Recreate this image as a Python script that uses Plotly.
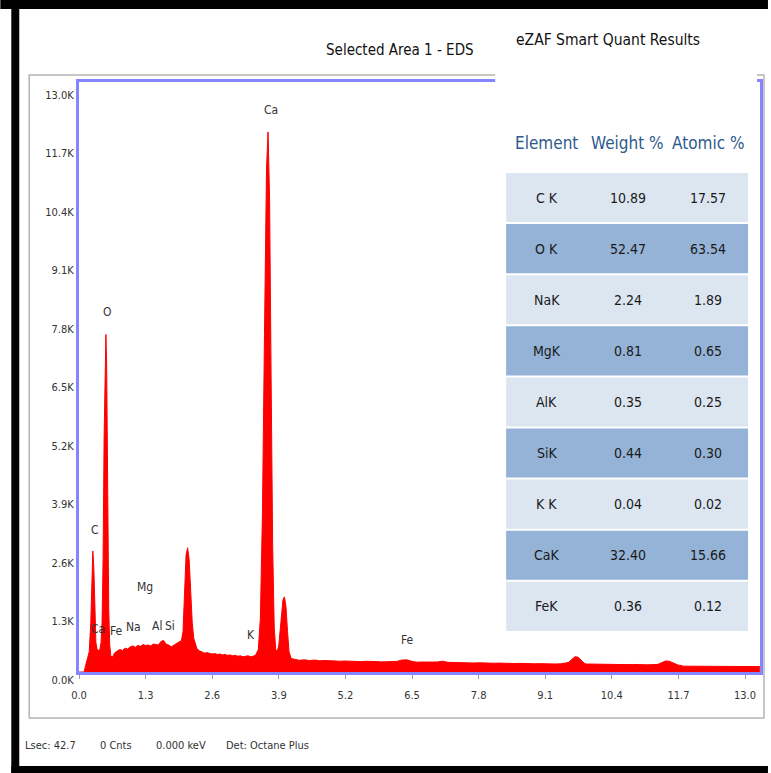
import plotly.graph_objects as go

# ---------------- data ----------------
energy_kev = [
    0.00, 0.10, 0.13, 0.17, 0.20, 0.23, 0.25, 0.27, 0.29, 0.31, 0.33, 0.35, 0.37, 0.39,
    0.41, 0.43, 0.45, 0.47, 0.49, 0.51, 0.525, 0.54, 0.56, 0.58, 0.60, 0.62,
    0.65, 0.70, 0.75, 0.80, 0.85, 0.90, 0.95, 1.00, 1.05, 1.10, 1.15, 1.20, 1.25, 1.30,
    1.35, 1.40, 1.45, 1.50, 1.55, 1.60, 1.65, 1.70, 1.75, 1.80, 1.85, 1.90, 1.95, 2.00,
    2.03, 2.06, 2.09, 2.12, 2.15, 2.18, 2.21, 2.24, 2.27,
    2.30, 2.35, 2.40, 2.45, 2.50, 2.55, 2.60, 2.65, 2.70, 2.75, 2.80, 2.85, 2.90, 2.95,
    3.00, 3.05, 3.10, 3.15, 3.20, 3.25, 3.30, 3.35, 3.40, 3.45,
    3.50, 3.54, 3.58, 3.62, 3.66, 3.69, 3.72, 3.75, 3.78, 3.81, 3.84, 3.87,
    3.90, 3.94, 3.98, 4.01, 4.04, 4.07, 4.10, 4.14,
    4.2, 4.3, 4.4, 4.5, 4.6, 4.7, 4.8, 4.9, 5.0, 5.1, 5.2, 5.3, 5.4, 5.5, 5.6, 5.7,
    5.8, 5.9, 6.0, 6.1, 6.2, 6.3, 6.4, 6.5, 6.6, 6.7, 6.8, 6.9, 7.0, 7.1, 7.2, 7.3,
    7.4, 7.5, 7.6, 7.7, 7.8, 7.9, 8.0, 8.1, 8.2, 8.3, 8.4, 8.5, 8.6, 8.7, 8.8, 8.9,
    9.0, 9.1, 9.2, 9.3, 9.4, 9.5, 9.55, 9.62, 9.68, 9.74, 9.80, 9.86, 9.9,
    10.0, 10.1, 10.2, 10.3, 10.4, 10.5, 10.6, 10.7, 10.8, 10.9, 11.0, 11.1, 11.2, 11.3,
    11.38, 11.45, 11.52, 11.6, 11.68, 11.8, 12.0, 12.2, 12.4, 12.6, 12.8, 13.0, 13.29,
]
counts = [
    0, 0, 150, 300, 450, 1100, 2100, 2690, 2300, 1200, 650, 520, 480, 460,
    520, 650, 1100, 2500, 5200, 7300, 7500, 6800, 3600, 1400, 600, 360,
    330, 430, 470, 500, 480, 530, 510, 560, 580, 550, 590, 570, 610, 590,
    600, 580, 620, 610, 600, 680, 700, 620, 600, 560, 600, 620, 660, 700,
    900, 1800, 2600, 2760, 2500, 1800, 1100, 750, 600,
    520, 470, 440, 420, 430, 410, 400, 410, 390, 400, 380, 390, 370, 380,
    360, 370, 350, 360, 340, 350, 360, 340, 350, 380,
    500, 1200, 3500, 7500, 11200, 12000, 10500, 6500, 2800, 1000, 500, 450,
    600, 1100, 1600, 1670, 1450, 900, 450, 300,
    280, 260, 270, 255, 265, 250, 255, 245, 250, 240, 245, 235, 240, 230, 238, 228,
    232, 225, 230, 222, 235, 265, 270, 235, 218, 222, 215, 220, 225, 240, 215, 210,
    214, 205, 210, 200, 205, 198, 202, 195, 198, 190, 195, 188, 192, 185, 190, 182,
    186, 180, 184, 178, 182, 190, 210, 280, 340, 330, 260, 195, 178,
    175, 172, 176, 170, 172, 166, 170, 164, 168, 162, 165, 160, 164, 170,
    210, 245, 240, 200, 160, 130, 128, 126, 124, 122, 121, 120, 120,
]

x_tick_vals = [0.0, 1.3, 2.6, 3.9, 5.2, 6.5, 7.8, 9.1, 10.4, 11.7, 13.0]
x_tick_text = ["0.0", "1.3", "2.6", "3.9", "5.2", "6.5", "7.8", "9.1", "10.4", "11.7", "13.0"]
y_tick_vals = [0, 1300, 2600, 3900, 5200, 6500, 7800, 9100, 10400, 11700, 13000]
y_tick_text = ["0.0K", "1.3K", "2.6K", "3.9K", "5.2K", "6.5K", "7.8K", "9.1K", "10.4K", "11.7K", "13.0K"]

peak_names = ["Ca", "O", "C", "Ca", "Fe", "Na", "Mg", "Al", "Si", "K", "Fe"]
peak_energy = [3.75, 0.56, 0.31, 0.37, 0.74, 1.07, 1.28, 1.52, 1.77, 3.36, 6.41]
peak_label_height = [12490, 8000, 3160, 960, 910, 1000, 1890, 1020, 1020, 820, 710]

elements = ["C K", "O K", "NaK", "MgK", "AlK", "SiK", "K K", "CaK", "FeK"]
weight_pct = ["10.89", "52.47", "2.24", "0.81", "0.35", "0.44", "0.04", "32.40", "0.36"]
atomic_pct = ["17.57", "63.54", "1.89", "0.65", "0.25", "0.30", "0.02", "15.66", "0.12"]
table_headers = ["Element", "Weight %", "Atomic %"]

footer_items = ["Lsec: 42.7", "0 Cnts", "0.000 keV", "Det: Octane Plus"]

# ---------------- layout helpers ----------------
W, H = 771, 773
L, R, T, B = 79, 763, 82, 672
FONT = "DejaVu Sans Condensed, Liberation Sans Narrow, Arial Narrow, Liberation Sans, Arial, sans-serif"


def pxx(px):
    return (px - L) / (R - L)


def pxy(py):
    return (B - py) / (B - T)


fig = go.Figure()
fig.add_trace(go.Scatter(
    x=energy_kev, y=counts, mode="lines",
    line=dict(color="#ff0000", width=1),
    fill="tozeroy", fillcolor="#ff0000",
    hoverinfo="skip", showlegend=False,
))

shapes = []
# outer black frame pieces
shapes.append(dict(type="rect", xref="paper", yref="paper", x0=pxx(0), x1=pxx(W), y0=pxy(0), y1=pxy(9),
                   fillcolor="black", line=dict(width=0), layer="above"))
shapes.append(dict(type="rect", xref="paper", yref="paper", x0=pxx(11), x1=pxx(19), y0=pxy(0), y1=pxy(H),
                   fillcolor="black", line=dict(width=0), layer="above"))
shapes.append(dict(type="rect", xref="paper", yref="paper", x0=pxx(11), x1=pxx(W), y0=pxy(766), y1=pxy(H),
                   fillcolor="black", line=dict(width=0), layer="above"))
# grey panel border
shapes.append(dict(type="rect", xref="paper", yref="paper", x0=pxx(29), x1=pxx(767), y0=pxy(75), y1=pxy(718),
                   fillcolor="rgba(0,0,0,0)", line=dict(color="#b4b4b4", width=1.5), layer="below"))
# white quant panel covering top right
shapes.append(dict(type="rect", xref="paper", yref="paper", x0=pxx(497), x1=pxx(760), y0=pxy(11), y1=pxy(86),
                   fillcolor="white", line=dict(width=0), layer="above"))

annotations = []
# table rows
row_top, row_h = 172, 51.1
col_x = [549, 630, 711]
for i, (el, w, a) in enumerate(zip(elements, weight_pct, atomic_pct)):
    y0 = row_top + i * row_h
    shapes.append(dict(type="rect", xref="paper", yref="paper", x0=pxx(508), x1=pxx(751),
                       y0=pxy(y0 + 1), y1=pxy(y0 + row_h - 1),
                       fillcolor="#dce6f1" if i % 2 == 0 else "#95b3d7",
                       line=dict(width=0), layer="above"))
    for cx, txt in zip(col_x, [el, w, a]):
        annotations.append(dict(x=pxx(cx), y=pxy(y0 + row_h / 2), xref="paper", yref="paper",
                                text=txt, showarrow=False, xanchor="center", yanchor="middle",
                                font=dict(family=FONT, size=14, color="#1a1a1a")))
for cx, txt in zip(col_x, table_headers):
    annotations.append(dict(x=pxx(cx), y=pxy(143), xref="paper", yref="paper", text=txt,
                            showarrow=False, xanchor="center", yanchor="middle",
                            font=dict(family=FONT, size=17, color="#2f5a8c")))

# titles
annotations.append(dict(x=pxx(401), y=pxy(50), xref="paper", yref="paper", text="Selected Area 1 - EDS",
                        showarrow=False, xanchor="center", yanchor="middle",
                        font=dict(family=FONT, size=15, color="#111111")))
annotations.append(dict(x=pxx(610), y=pxy(40), xref="paper", yref="paper", text="eZAF Smart Quant Results",
                        showarrow=False, xanchor="center", yanchor="middle",
                        font=dict(family=FONT, size=15.5, color="#111111")))

# peak labels
for name, e, h in zip(peak_names, peak_energy, peak_label_height):
    annotations.append(dict(x=e, y=h, xref="x", yref="y", text=name, showarrow=False,
                            xanchor="center", yanchor="middle",
                            font=dict(family=FONT, size=12, color="#333333")))

# footer
for cx, txt in zip([50, 116, 181, 268], footer_items):
    annotations.append(dict(x=pxx(cx), y=pxy(745), xref="paper", yref="paper", text=txt,
                            showarrow=False, xanchor="center", yanchor="middle",
                            font=dict(family=FONT, size=11, color="#333333")))

fig.update_layout(
    width=W, height=H,
    margin=dict(l=L, r=W - R, t=T, b=H - B),
    paper_bgcolor="white", plot_bgcolor="white",
    showlegend=False,
    shapes=shapes, annotations=annotations,
    xaxis=dict(range=[0, (R - L) / 51.46], showgrid=False, zeroline=False,
               showline=True, linecolor="#8585ff", linewidth=3, mirror=True,
               ticks="outside", ticklen=4, tickcolor="#9a9a9a", ticklabelstandoff=7,
               tickvals=x_tick_vals, ticktext=x_tick_text,
               tickfont=dict(family=FONT, size=11, color="#333333"), fixedrange=True),
    yaxis=dict(range=[0, (B - T) / 45.0 * 1000], showgrid=False, zeroline=False,
               showline=True, linecolor="#8585ff", linewidth=3, mirror=True,
               ticks="", tickvals=y_tick_vals, ticktext=y_tick_text,
               ticklabelposition="outside bottom", ticklabelstandoff=0,
               tickfont=dict(family=FONT, size=11, color="#333333"), fixedrange=True),
)

fig.write_html("out.html", config={"displayModeBar": False},
               post_script="document.body.style.margin='0px';")
